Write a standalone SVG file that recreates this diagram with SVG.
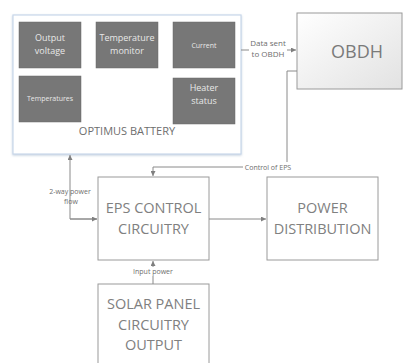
<svg xmlns="http://www.w3.org/2000/svg" width="404" height="363" viewBox="0 0 404 363">
<defs>
<linearGradient id="g" x1="0" y1="0" x2="1" y2="1">
<stop offset="0" stop-color="#ffffff"/>
<stop offset="1" stop-color="#e2e2e2"/>
</linearGradient>
<filter id="sh" x="-5%" y="-5%" width="110%" height="115%">
<feDropShadow dx="0" dy="1" stdDeviation="1" flood-color="#9fb3cc" flood-opacity="0.6"/>
</filter>
<marker id="ah" viewBox="0 0 6 6" refX="6" refY="3" markerWidth="5" markerHeight="5" orient="auto" markerUnits="userSpaceOnUse">
<path d="M0,0 L6,3 L0,6 z" fill="#7f7f7f"/>
</marker>
</defs>
<style>
text{font-family:"Open Sans","Liberation Sans",sans-serif;text-anchor:middle}
.in rect{fill:#777777;stroke:#6a6a6a;stroke-width:0.5}
.in text{fill:#e8e8e8;font-size:9px}
.big{fill:#808080;font-size:14.5px}
.box{fill:#ffffff;stroke:#9a9a9a;stroke-width:1}
.lbl{fill:#6e6e6e;font-size:7px}
.conn path{fill:none;stroke:#8a8a8a;stroke-width:1}
</style>
<rect width="404" height="363" fill="#ffffff"/>

<g id="battery">
<rect x="13" y="15" width="228" height="139" fill="#ffffff" stroke="#c9d7ea" stroke-width="1.2" filter="url(#sh)"/>
<g class="in" id="output-voltage"><rect x="19" y="22" width="62" height="46"/><text x="50" y="41">Output</text><text x="50" y="54">voltage</text></g>
<g class="in" id="temperature-monitor"><rect x="96" y="22" width="62" height="46"/><text x="127" y="41">Temperature</text><text x="127" y="54">monitor</text></g>
<g class="in" id="current"><rect x="173" y="22" width="62" height="46"/><text x="204" y="47.5" style="font-size:7px">Current</text></g>
<g class="in" id="temperatures"><rect x="19" y="76" width="62" height="46"/><text x="50" y="101" style="font-size:7px">Temperatures</text></g>
<g class="in" id="heater-status"><rect x="173" y="78" width="62" height="46"/><text x="204" y="91">Heater</text><text x="204" y="104">status</text></g>
<text x="127" y="135" style="fill:#6e6e6e;font-size:11px">OPTIMUS BATTERY</text>
</g>

<g id="obdh">
<rect x="297" y="13" width="105" height="76" fill="url(#g)" stroke="#9a9a9a"/>
<text x="357" y="58" style="fill:#7a7a7a;font-size:18px">OBDH</text>
</g>

<g id="eps-control">
<rect class="box" x="98" y="177" width="111" height="83"/>
<text class="big" x="153.5" y="213">EPS CONTROL</text>
<text class="big" x="153.5" y="234">CIRCUITRY</text>
</g>

<g id="power-distribution">
<rect class="box" x="267" y="177" width="111" height="83"/>
<text class="big" x="322.5" y="213">POWER</text>
<text class="big" x="322.5" y="234">DISTRIBUTION</text>
</g>

<g id="solar-panel">
<rect class="box" x="98" y="284" width="111" height="90"/>
<text class="big" x="153.5" y="309">SOLAR PANEL</text>
<text class="big" x="153.5" y="330">CIRCUITRY</text>
<text class="big" x="153.5" y="350">OUTPUT</text>
</g>

<g class="conn" id="connectors">
<path d="M241,50 H296" marker-end="url(#ah)"/>
<path d="M297,71 H287 V167 H153 V176" marker-end="url(#ah)"/>
<path d="M209,219 H266" marker-end="url(#ah)"/>
<path d="M97,219 H70 V155" marker-end="url(#ah)"/>
<path d="M70,219 H97" marker-end="url(#ah)"/>
<path d="M153,284 V261" marker-end="url(#ah)"/>
<rect x="249" y="38" width="38" height="21" fill="#ffffff"/>
<text class="lbl" x="268" y="46" style="font-size:8px">Data sent</text>
<text class="lbl" x="268" y="57" style="font-size:8px">to OBDH</text>
<rect x="243" y="162" width="50" height="9" fill="#ffffff"/>
<text class="lbl" x="268" y="169.5">Control of EPS</text>
<text class="lbl" x="70" y="194">2-way power</text>
<text class="lbl" x="71" y="204">flow</text>
<rect x="131" y="267" width="44" height="9" fill="#ffffff"/>
<text class="lbl" x="153" y="274">Input power</text>
</g>
</svg>
